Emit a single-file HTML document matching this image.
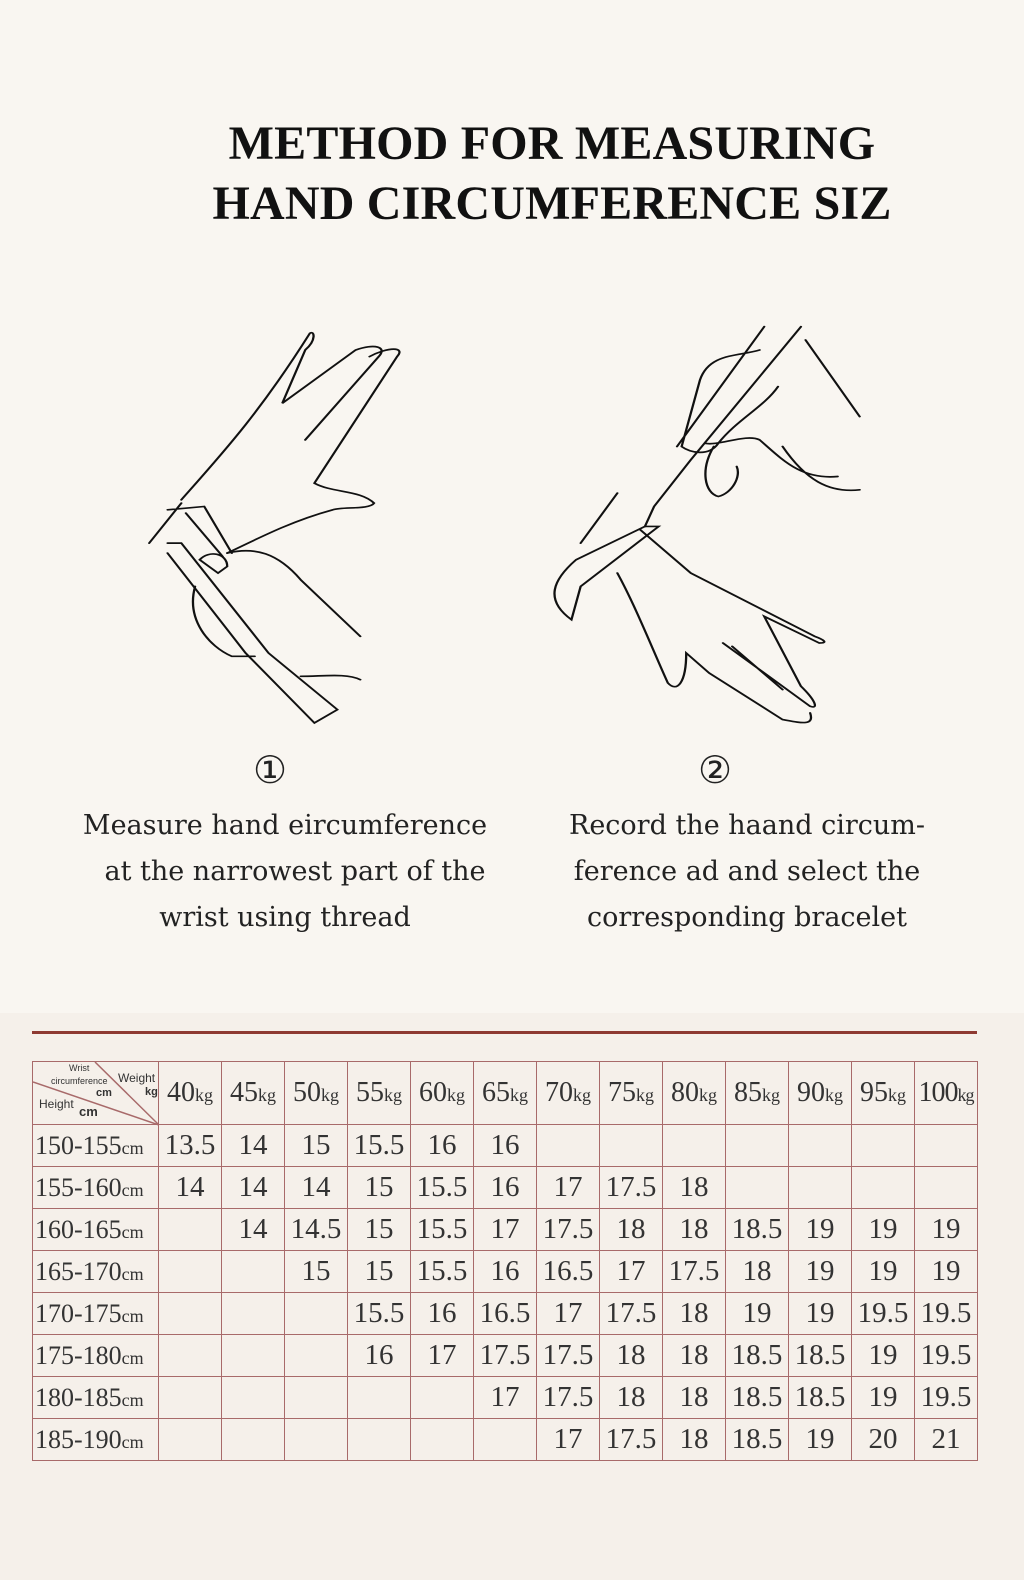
<!DOCTYPE html>
<html><head><meta charset="utf-8"><style>
html,body{margin:0;padding:0}
body{width:1024px;height:1580px;background:#f9f6f1;position:relative;overflow:hidden;font-family:"Liberation Serif",serif;color:#222}
.t{position:absolute;left:-3px;width:1110px;text-align:center;font-weight:bold;font-size:48px;letter-spacing:0.2px;color:#111}
.c{position:absolute;font-family:"DejaVu Serif","Liberation Serif",serif;font-size:27px;text-align:center;color:#222;white-space:nowrap}
.num{position:absolute;font-family:"DejaVu Sans",sans-serif;font-size:38px;font-weight:normal;color:#222}
#bot{position:absolute;left:0;top:1013px;width:1024px;height:567px;background:#f5f0ea}
table{position:absolute;left:32px;top:1061px;border-collapse:collapse;table-layout:fixed;width:945px}
td{border:1.6px solid #a86a6a;height:41px;text-align:center;font-size:29px;padding:0;color:#333;line-height:1;overflow:visible;white-space:nowrap}
td:first-child{text-align:left;font-size:26px;padding-left:2px}
td small{font-size:18px}
tr.h td{height:62px;font-size:28px}
</style></head><body>
<div class="t" style="top:116px">METHOD FOR MEASURING</div>
<div class="t" style="top:176px">HAND CIRCUMFERENCE SIZ</div>
<svg style="position:absolute;left:0;top:0" width="1024" height="760">
<g transform="translate(140,320) scale(0.459,0.333)" fill="none" stroke="#111" stroke-width="5" stroke-linecap="round">
<path d="M90 540 C180 400 260 280 370 40 C380 30 385 60 360 90 L310 250 L470 90 C510 70 540 80 520 110 L360 360 M500 110 C540 80 580 80 560 110 L380 490 C420 520 480 510 510 550 C500 570 440 560 420 570 C340 600 280 640 190 700"/>
<path d="M90 550 L20 670 M60 570 L140 560 L200 700 M60 670 L90 670 L280 1000 L430 1170 L380 1210 L230 1000 L60 700 M100 580 L180 710"/>
<path d="M190 700 C250 680 300 700 350 780 L480 950 M350 1070 C400 1070 450 1060 480 1080 M120 800 C100 900 150 980 200 1010 L250 1010 M130 720 C150 690 190 700 190 740 L170 760 Z"/>
<path d="M1350 90 C1300 110 1240 100 1220 180 L1180 380 C1200 400 1240 410 1260 370 C1300 300 1360 260 1390 200 M1440 20 L1200 420 L1120 560 L1100 620 M1360 20 L1170 380 M1450 60 L1568 290 M1230 370 C1260 380 1320 340 1350 360 C1400 420 1440 480 1520 470 M1250 380 C1220 450 1230 520 1260 530 C1290 520 1310 470 1300 440 M1400 380 C1450 480 1500 520 1568 510"/>
<path d="M1100 620 L950 720 C900 780 880 840 940 900 L960 800 L1130 620 Z M1040 520 L960 670 M1090 630 L1200 760 L1470 950 C1490 960 1500 970 1480 970 L1360 890 L1440 1100 C1470 1140 1480 1170 1460 1160 L1270 970 M1040 760 C1080 860 1120 1000 1150 1090 C1170 1120 1190 1090 1190 1000 L1240 1060 L1400 1200 C1440 1210 1470 1220 1460 1180 M1290 980 L1400 1110"/>
</g></svg>
<div class="num" style="left:253px;top:748px">①</div>
<div class="num" style="left:698px;top:748px">②</div>
<div class="c" style="left:60px;width:450px;top:810px">Measure hand eircumference</div>
<div class="c" style="left:70px;width:450px;top:856px">at the narrowest part of the</div>
<div class="c" style="left:60px;width:450px;top:902px">wrist using thread</div>
<div class="c" style="left:522px;width:450px;top:810px">Record the haand circum-</div>
<div class="c" style="left:522px;width:450px;top:856px">ference ad and select the</div>
<div class="c" style="left:522px;width:450px;top:902px">corresponding bracelet</div>
<div id="bot"></div>
<div style="position:absolute;left:32px;top:1031px;width:945px;height:3px;background:#8e3a32"></div>
<table>
<colgroup><col style="width:126px"><col span="13" style="width:63px"></colgroup>
<tr class="h"><td style="position:relative;font-family:'Liberation Sans',sans-serif;font-size:11px">
<svg style="position:absolute;left:0;top:0" width="126" height="64"><line x1="0" y1="20" x2="126" y2="63" stroke="#a86a6a" stroke-width="1.5"/><line x1="62" y1="0" x2="126" y2="63" stroke="#a86a6a" stroke-width="1.5"/></svg>
<span style="position:absolute;left:36px;top:2px;font-size:9px">Wrist</span><span style="position:absolute;left:18px;top:15px;font-size:9px">circumference</span><span style="position:absolute;left:85px;top:10px;font-size:12px">Weight</span><span style="position:absolute;left:63px;top:26px;font-size:11px;font-weight:bold">cm</span><span style="position:absolute;left:112px;top:25px;font-size:11px;font-weight:bold">kg</span><span style="position:absolute;left:6px;top:36px;font-size:12px">Height</span><span style="position:absolute;left:46px;top:43px;font-size:13px;font-weight:bold">cm</span></td>
<td>40<small>kg</small></td><td>45<small>kg</small></td><td>50<small>kg</small></td><td>55<small>kg</small></td><td>60<small>kg</small></td><td>65<small>kg</small></td><td>70<small>kg</small></td><td>75<small>kg</small></td><td>80<small>kg</small></td><td>85<small>kg</small></td><td>90<small>kg</small></td><td>95<small>kg</small></td><td style="letter-spacing:-1px">100<small>kg</small></td></tr>
<tr><td>150-155<small>cm</small></td><td>13.5</td><td>14</td><td>15</td><td>15.5</td><td>16</td><td>16</td><td></td><td></td><td></td><td></td><td></td><td></td><td></td></tr>
<tr><td>155-160<small>cm</small></td><td>14</td><td>14</td><td>14</td><td>15</td><td>15.5</td><td>16</td><td>17</td><td>17.5</td><td>18</td><td></td><td></td><td></td><td></td></tr>
<tr><td>160-165<small>cm</small></td><td></td><td>14</td><td>14.5</td><td>15</td><td>15.5</td><td>17</td><td>17.5</td><td>18</td><td>18</td><td>18.5</td><td>19</td><td>19</td><td>19</td></tr>
<tr><td>165-170<small>cm</small></td><td></td><td></td><td>15</td><td>15</td><td>15.5</td><td>16</td><td>16.5</td><td>17</td><td>17.5</td><td>18</td><td>19</td><td>19</td><td>19</td></tr>
<tr><td>170-175<small>cm</small></td><td></td><td></td><td></td><td>15.5</td><td>16</td><td>16.5</td><td>17</td><td>17.5</td><td>18</td><td>19</td><td>19</td><td>19.5</td><td>19.5</td></tr>
<tr><td>175-180<small>cm</small></td><td></td><td></td><td></td><td>16</td><td>17</td><td>17.5</td><td>17.5</td><td>18</td><td>18</td><td>18.5</td><td>18.5</td><td>19</td><td>19.5</td></tr>
<tr><td>180-185<small>cm</small></td><td></td><td></td><td></td><td></td><td></td><td>17</td><td>17.5</td><td>18</td><td>18</td><td>18.5</td><td>18.5</td><td>19</td><td>19.5</td></tr>
<tr><td>185-190<small>cm</small></td><td></td><td></td><td></td><td></td><td></td><td></td><td>17</td><td>17.5</td><td>18</td><td>18.5</td><td>19</td><td>20</td><td>21</td></tr>
</table>
</body></html>
